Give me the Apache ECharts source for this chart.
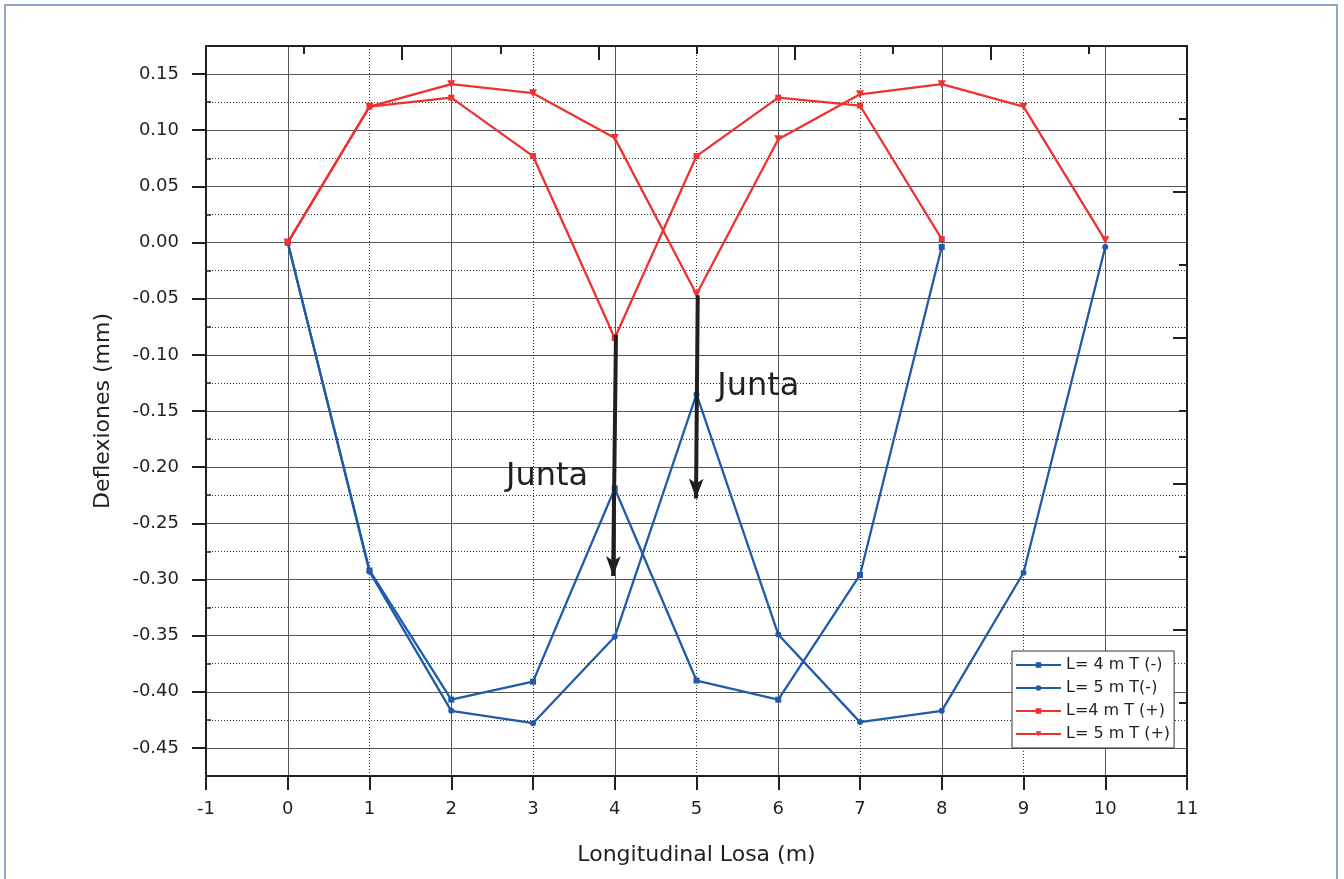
<!DOCTYPE html>
<html>
<head>
    <meta charset="utf-8">
    <title>Deflexiones</title>
    <script src="https://cdn.jsdelivr.net/npm/echarts@6/dist/echarts.min.js"></script>
    <style>
        html, body {
            margin: 0;
            padding: 0;
            width: 100%;
            height: 100%;
            overflow: hidden;
            background: #ffffff;
        }
        #chart {
            width: 1344px;
            height: 879px;
        }
        #marco {
            position: absolute;
            left: 4px;
            top: 4px;
            width: 1334px;
            height: 1000px;
            border: 2px solid #8ea9cb;
            box-sizing: border-box;
            pointer-events: none;
        }
    </style>
</head>
<body>
    <div id="chart"></div>
    <div id="marco"></div>
    <script>
        // valores
        const x4 = [0, 1, 2, 3, 4, 5, 6, 7, 8];
        const x5 = [0, 1, 2, 3, 4, 5, 6, 7, 8, 9, 10];
        const l4Neg = [0, -0.292, -0.407, -0.391, -0.219, -0.390, -0.407, -0.296, -0.004];
        const l5Neg = [0, -0.293, -0.417, -0.428, -0.351, -0.135, -0.349, -0.427, -0.417, -0.294, -0.004];
        const l4Pos = [0, 0.121, 0.129, 0.077, -0.085, 0.077, 0.129, 0.122, 0.003];
        const l5Pos = [0, 0.121, 0.141, 0.133, 0.093, -0.046, 0.092, 0.132, 0.141, 0.121, 0.002];
        const nombres = ['L= 4 m T (-)', 'L= 5 m T(-)', 'L=4 m T (+)', 'L= 5 m T (+)'];

        // anotaciones (coordenadas en datos)
        const flechas = [
            [[4.015, -0.082], [3.98, -0.297]],
            [[5.015, -0.047], [4.994, -0.228]]
        ];
        const juntas = [[3.172, -0.2087], [5.756, -0.128]];

        // rango de los ejes
        const xMin = -1, xMax = 11;
        const yMin = -0.475, yMax = 0.175;
        const yEtiqMin = -0.45, yEtiqMax = 0.15;

        const azul = '#1f5ba8';
        const rojo = '#ee3131';
        const negro = '#231f20';
        const fuente = 'DejaVu Sans';

        const pares = (xs, ys) => xs.map((x, i) => [x, ys[i]]);

        const chart = echarts.init(document.getElementById('chart'), null, { renderer: 'canvas' });

        // area del grafico en pixeles
        const gLeft = 206, gRight = 157, gTop = 46, gBottom = 103;
        const alto = 879 - gTop - gBottom;
        const pxUnidad = alto / (yMax - yMin);
        const largoMarca = 14;
        const etiqTop = gTop + (yMax - yEtiqMax) * pxUnidad;
        const etiqBottom = gBottom + (yEtiqMin - yMin) * pxUnidad;

        const marca = (largo, dentro) => ({ show: true, inside: dentro, length: largo, lineStyle: { color: negro, width: 2 } });
        const lineaInvisible = { show: true, onZero: false, lineStyle: { color: 'rgba(0,0,0,0)', width: 1 } };
        // en las franjas exteriores las marcas son las lineas de division
        const divisionMarca = { show: true, lineStyle: { color: negro, width: 2, type: 'solid' } };

        function serie(nombre, xs, ys, color, simbolo, tam, rot) {
            return {
                name: nombre,
                type: 'line',
                xAxisIndex: 0,
                yAxisIndex: 0,
                data: pares(xs, ys),
                symbol: simbolo,
                symbolSize: tam,
                symbolRotate: rot || 0,
                showSymbol: true,
                lineStyle: { color: color, width: 2.3 },
                itemStyle: { color: color },
                emphasis: { disabled: true },
                z: 3
            };
        }

        chart.setOption({
            animation: false,
            grid: [
                { left: gLeft, right: gRight, top: gTop, bottom: gBottom },
                // rejilla alineada para las etiquetas del eje y
                { left: gLeft, right: gRight, top: etiqTop, bottom: etiqBottom },
                // franja bajo el eje x para sus marcas exteriores
                { left: gLeft, right: gRight, top: 879 - gBottom, height: largoMarca },
                // franja a la izquierda del eje y para sus marcas exteriores
                { left: gLeft - largoMarca, width: largoMarca, top: etiqTop, bottom: etiqBottom }
            ],
            legend: {
                data: nombres,
                orient: 'vertical',
                left: 1012,
                top: 651,
                padding: [6, 4, 6, 3],
                itemWidth: 45,
                itemHeight: 7,
                itemGap: 7,
                backgroundColor: '#ffffff',
                borderColor: '#333333',
                borderWidth: 1,
                borderRadius: 0,
                textStyle: { fontFamily: fuente, fontSize: 16, color: negro },
                selectedMode: false
            },
            xAxis: [
                {
                    // eje inferior con etiquetas y marcas
                    type: 'value', position: 'bottom', min: xMin, max: xMax, interval: 1,
                    name: 'Longitudinal Losa (m)', nameLocation: 'middle', nameGap: 68,
                    nameTextStyle: { fontFamily: fuente, fontSize: 22, color: negro },
                    axisLine: { show: true, onZero: false, lineStyle: { color: negro, width: 2 } },
                    axisTick: marca(largoMarca, false),
                    axisLabel: { fontFamily: fuente, fontSize: 18, color: negro, margin: 24 },
                    splitLine: { show: false }
                },
                {
                    // rejilla vertical: punteada en impares, continua en pares
                    type: 'value', position: 'bottom', min: xMin, max: xMax, interval: 2,
                    axisLine: lineaInvisible,
                    axisTick: { show: false }, axisLabel: { show: false },
                    splitLine: { show: true, lineStyle: { color: '#333333', width: 1, type: [1, 2] } },
                    minorTick: { show: false, splitNumber: 2 },
                    minorSplitLine: { show: true, lineStyle: { color: '#555555', width: 1 } }
                },
                {
                    // marco superior
                    type: 'value', position: 'top', min: 0, max: 10, interval: 2,
                    axisLine: { show: true, onZero: false, lineStyle: { color: negro, width: 2 } },
                    axisTick: marca(14, true),
                    minorTick: { show: true, splitNumber: 2, length: 8, lineStyle: { color: negro, width: 2 } },
                    axisLabel: { show: false }, splitLine: { show: false }
                },
                { gridIndex: 1, type: 'value', min: xMin, max: xMax, show: false },
                {
                    // marcas exteriores del eje x (franja)
                    gridIndex: 2, type: 'value', position: 'top', min: xMin, max: xMax, interval: 1,
                    axisLine: lineaInvisible,
                    axisTick: marca(largoMarca, true),
                    axisLabel: { show: false },
                    splitLine: divisionMarca
                },
                { gridIndex: 3, type: 'value', min: 0, max: 1, show: false }
            ],
            yAxis: [
                {
                    // eje izquierdo (datos)
                    type: 'value', position: 'left', min: yMin, max: yMax, interval: 0.05,
                    name: 'Deflexiones (mm)', nameLocation: 'middle', nameGap: 92,
                    nameTextStyle: { fontFamily: fuente, fontSize: 22, color: negro },
                    axisLine: { show: true, onZero: false, lineStyle: { color: negro, width: 2 } },
                    // marcas menores interiores y rejilla horizontal
                    axisTick: { show: true, inside: true, length: 5, lineStyle: { color: negro, width: 1.5 } },
                    axisLabel: { show: false },
                    splitLine: { show: true, lineStyle: { color: '#333333', width: 1, type: [1, 2] } },
                    minorTick: { show: false, splitNumber: 2 },
                    minorSplitLine: { show: true, lineStyle: { color: '#555555', width: 1 } }
                },
                {
                    // marco derecho
                    type: 'value', position: 'right', min: 0, max: 10, interval: 2,
                    axisLine: { show: true, onZero: false, lineStyle: { color: negro, width: 2 } },
                    axisTick: marca(14, true),
                    minorTick: { show: true, splitNumber: 2, length: 8, lineStyle: { color: negro, width: 2 } },
                    axisLabel: { show: false }, splitLine: { show: false }
                },
                {
                    // etiquetas y marcas mayores del eje y
                    gridIndex: 1, type: 'value', position: 'left',
                    min: yEtiqMin, max: yEtiqMax, interval: 0.05,
                    axisLine: lineaInvisible,
                    axisTick: marca(largoMarca, false),
                    axisLabel: {
                        fontFamily: fuente, fontSize: 18, color: negro, margin: 27,
                        formatter: (v) => v.toFixed(2)
                    },
                    splitLine: { show: false }
                },
                { gridIndex: 2, type: 'value', min: 0, max: 1, show: false },
                {
                    // marcas exteriores del eje y (franja)
                    gridIndex: 3, type: 'value', position: 'right',
                    min: yEtiqMin, max: yEtiqMax, interval: 0.05,
                    axisLine: lineaInvisible,
                    axisTick: marca(largoMarca, true),
                    axisLabel: { show: false },
                    splitLine: divisionMarca
                }
            ],
            series: [
                serie(nombres[0], x4, l4Neg, azul, 'rect', 6),
                serie(nombres[1], x5, l5Neg, azul, 'circle', 6),
                serie(nombres[2], x4, l4Pos, rojo, 'rect', 6),
                serie(nombres[3], x5, l5Pos, rojo, 'triangle', 8, 180),
                {
                    name: 'Junta',
                    type: 'scatter',
                    xAxisIndex: 0,
                    yAxisIndex: 0,
                    data: juntas,
                    symbol: 'circle',
                    symbolSize: 1,
                    itemStyle: { color: 'rgba(255,255,255,0)' },
                    silent: true,
                    label: {
                        show: true, position: 'inside', formatter: 'Junta',
                        fontFamily: fuente, fontSize: 32, color: negro,
                        textBorderWidth: 0, opacity: 1
                    },
                    markLine: {
                        silent: true,
                        symbol: ['none', 'arrow'],
                        symbolSize: [11, 20],
                        label: { show: false },
                        lineStyle: { color: negro, width: 4, type: 'solid' },
                        itemStyle: { color: negro },
                        emphasis: { disabled: true },
                        data: flechas.map((f) => [{ coord: f[0] }, { coord: f[1] }])
                    },
                    z: 5
                }
            ]
        });
    </script>
</body>
</html>
